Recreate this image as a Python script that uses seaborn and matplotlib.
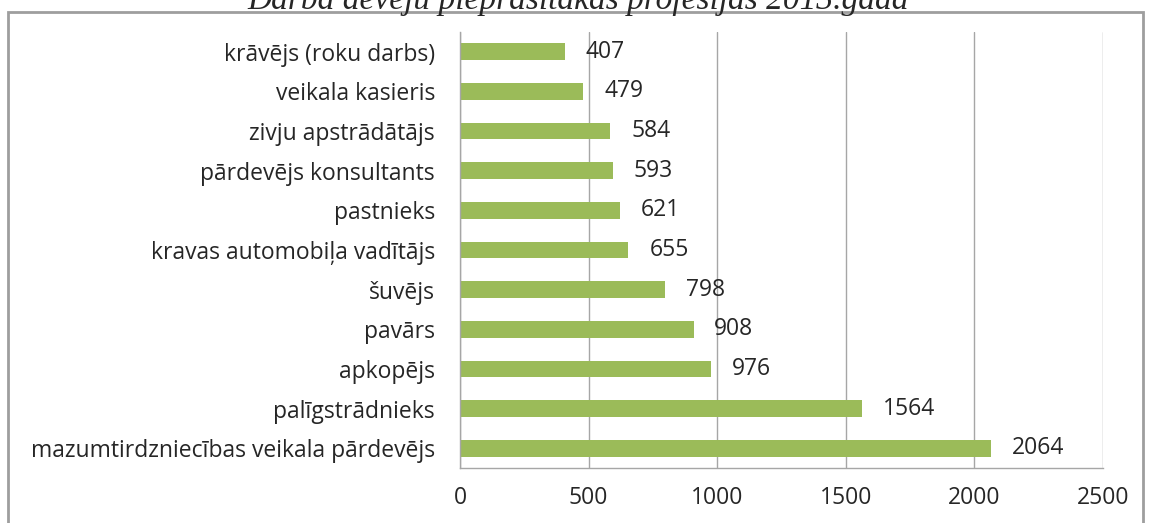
import matplotlib
matplotlib.use("Agg")
import matplotlib.pyplot as plt
import matplotlib.patches as mpatches
import seaborn as sns
import pandas as pd
import numpy as np

# data (top to bottom, as shown)
professions = [
    "krāvējs (roku darbs)",
    "veikala kasieris",
    "zivju apstrādātājs",
    "pārdevējs konsultants",
    "pastnieks",
    "kravas automobiļa vadītājs",
    "šuvējs",
    "pavārs",
    "apkopējs",
    "palīgstrādnieks",
    "mazumtirdzniecības veikala pārdevējs",
]
vacancies = [407, 479, 584, 593, 621, 655, 798, 908, 976, 1564, 2064]
x_ticks = [0, 500, 1000, 1500, 2000, 2500]
title = "Darba devēju pieprasītākās profesijas 2013.gadā"

df = pd.DataFrame({"profesija": professions, "skaits": vacancies})

sns.set_style("white")
plt.rcParams["font.family"] = ["Open Sans", "DejaVu Sans"]

W, H = 1151, 523
fig = plt.figure(figsize=(W / 100, H / 100), dpi=100)
ax = fig.add_axes([460 / W, 1 - 468 / H, (1103 - 460) / W, (468 - 32) / H])

sns.barplot(data=df, x="skaits", y="profesija", orient="h", color="#9BBB59",
            saturation=1, width=0.42, ax=ax, edgecolor="none")

# labels on bars
ax.bar_label(ax.containers[0], padding=15, fontsize=16.5, color="#262626")

ax.set_xlim(0, 2500)
ax.set_ylim(10.5, -0.5)
ax.set_xticks(x_ticks)
ax.set_xticklabels([str(t) for t in x_ticks], fontsize=16.5, color="#262626")
ax.tick_params(axis="x", direction="out", length=6, color="#A6A6A6", pad=7)
ax.tick_params(axis="y", which="major", length=0, pad=18, labelsize=16.5, labelcolor="#262626")
ax.set_yticks(np.arange(-0.5, 11, 1), minor=True)
ax.tick_params(axis="y", which="minor", direction="out", length=7, color="#A6A6A6")
ax.set_xlabel("")
ax.set_ylabel("")

ax.grid(axis="x", color="#A6A6A6", linewidth=1)
ax.set_axisbelow(True)
for side in ["top", "right"]:
    ax.spines[side].set_visible(False)
for side in ["left", "bottom"]:
    ax.spines[side].set_color("#A6A6A6")
    ax.spines[side].set_linewidth(1)

# outer chart border
border = mpatches.Rectangle((8 / W, -0.05), (1143 - 8) / W, 1.05 - 12 / H,
                            transform=fig.transFigure, fill=False,
                            edgecolor="#9E9E9E", linewidth=2)
fig.patches.append(border)

# title, partly cut off at the top as in the source
fig.text(578 / W, 1 - 9 / H, title, ha="center", va="baseline",
         fontsize=24, style="italic", family=["Liberation Serif", "DejaVu Serif"])

fig.savefig("out.png", dpi=100)
